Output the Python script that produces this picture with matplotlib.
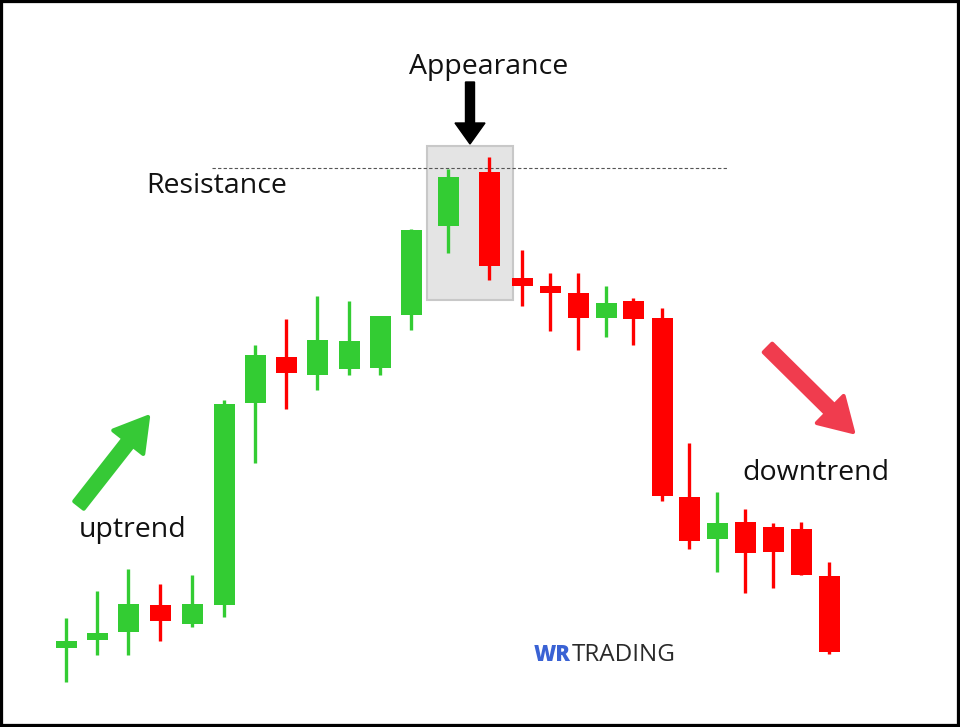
import numpy as np
import matplotlib
matplotlib.use("Agg")
import matplotlib.pyplot as plt
from matplotlib.patches import Rectangle, FancyArrow

# =========================
# DATA (price units)
# =========================
slots = [66, 97, 128, 160, 192, 224, 255, 286, 317, 349, 380, 411, 448,
         489, 522, 550, 578, 606, 633, 662, 689, 717, 745, 773, 801, 829]
opens = [79, 87, 95, 122, 103, 122, 324, 370, 352, 358, 359, 412, 501,
         555, 449, 441, 434, 409, 426, 409, 230, 188, 205, 200, 198, 151]
closes = [86, 94, 123, 106, 123, 323, 372, 354, 387, 386, 411, 497, 550,
          461, 441, 434, 409, 424, 408, 231, 186, 204, 174, 175, 152, 75]
highs = [109, 136, 158, 143, 152, 327, 382, 408, 431, 426, 411, 498, 558,
         570, 477, 454, 454, 441, 429, 419, 284, 235, 218, 204, 205, 165]
lows = [45, 72, 72, 86, 100, 110, 264, 318, 337, 352, 352, 397, 474,
        447, 421, 396, 377, 390, 382, 226, 178, 155, 134, 139, 152, 73]

resistance = 559
pattern_idx = [12, 13]  # the two candles in the grey box

GREEN = "#33cc33"
RED = "#ff0000"
FONT = "Open Sans"

# =========================
# FIGURE
# =========================
fig = plt.figure(figsize=(9.6, 7.27), dpi=100)
ax = fig.add_axes([0, 0, 1, 1])
ax.set_xlim(0, 960)
ax.set_ylim(0, 727)
ax.axis("off")

o = np.array(opens)
c = np.array(closes)
x = np.array(slots)
colors = [GREEN if cc >= oo else RED for oo, cc in zip(o, c)]

# highlight box around the pattern
x0 = x[pattern_idx[0]] - 21
x1 = x[pattern_idx[-1]] + 24
box_top = max(highs[i] for i in pattern_idx) + 11
ax.add_patch(Rectangle((x0, 427), x1 - x0, box_top - 427,
                       facecolor="#e4e4e4", edgecolor="#c8c8c8", lw=1.5, zorder=1))

# resistance line
ax.hlines(resistance, 212, 728, colors="#555555", linestyles=(0, (3, 2)),
          lw=0.8, zorder=2)

# candles
ax.vlines(x, lows, highs, colors=colors, lw=2.4, zorder=3)
ax.bar(x, np.abs(c - o), bottom=np.minimum(o, c), width=21, color=colors,
       zorder=4)

# =========================
# ANNOTATIONS
# =========================
ax.text(489, 660, "Appearance", ha="center", va="center", fontsize=20.5,
        family=FONT, color="#111111")
ax.text(146, 541, "Resistance", ha="left", va="center", fontsize=20.5,
        family=FONT, color="#111111")
ax.text(79, 197, "uptrend", ha="left", va="center", fontsize=20.5,
        family=FONT, color="#111111")
ax.text(742, 254, "downtrend", ha="left", va="center", fontsize=20.5,
        family=FONT, color="#111111")

ax.add_patch(FancyArrow(470, 645, 0, -62, width=9, head_width=30,
                        head_length=21, length_includes_head=True,
                        color="black", zorder=5))
ax.add_patch(FancyArrow(79, 222, 69, 88, width=12, head_width=38,
                        head_length=32, length_includes_head=True,
                        color="#36c936", ec="#36c936", lw=3,
                        joinstyle="round", zorder=5))
ax.add_patch(FancyArrow(768, 379, 85, -84, width=12, head_width=38,
                        head_length=32, length_includes_head=True,
                        color="#f03c4e", ec="#f03c4e", lw=3,
                        joinstyle="round", zorder=5))

# logo
ax.text(571, 72, "WR", ha="right", va="center", fontsize=15.5,
        family=FONT, weight="heavy", color="#3a62d4")
ax.text(572, 72, "TRADING", ha="left", va="center", fontsize=17.5,
        family=FONT, color="#2a2a2a")

# frame
ax.add_patch(Rectangle((0, 0), 960, 727, fill=False, edgecolor="black",
                       lw=4.5, clip_on=False, zorder=10))

fig.savefig("out.png", dpi=100, facecolor="white")
